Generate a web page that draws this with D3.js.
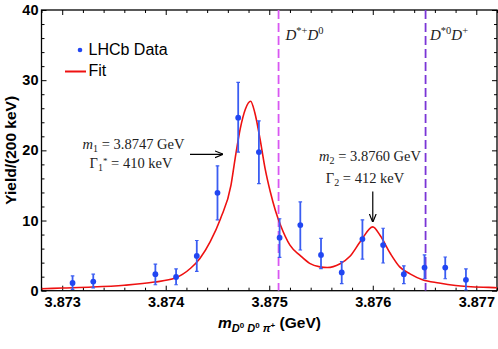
<!DOCTYPE html>
<html lang="en">
<head>
<meta charset="UTF-8">
<title>LHCb D0 D0 pi+ fit</title>
<script src="https://d3js.org/d3.v7.min.js"></script>
<style>
    body { margin: 0; background: #fff; }
    svg { display: block; }
    .tick text { font-family: "Liberation Sans", Arial, sans-serif; font-weight: bold; font-size: 14.5px; fill: #000; }
    .tick line { stroke: #000; stroke-width: 1; }
    .domain { display: none; }
    .serif { font-family: "Liberation Serif", "Times New Roman", serif; fill: #222; }
    .legend { font-family: "Liberation Sans", Arial, sans-serif; font-size: 16px; fill: #000; }
</style>
</head>
<body>
<div id="chart"></div>
<script>
    // data points (bin centres in GeV), yields and error bar ends
    const massX    = [3.8731, 3.8733, 3.8739, 3.8741, 3.8743, 3.8745, 3.8747, 3.8749, 3.8751,
                      3.8753, 3.8755, 3.8757, 3.8759, 3.8761, 3.8763, 3.8765, 3.8767, 3.8769];
    const yieldVal = [1.1, 1.3, 2.35, 1.95, 4.95, 13.95, 24.65, 19.75, 7.55,
                      9.35, 5.1, 2.6, 7.35, 6.5, 2.35, 3.3, 3.3, 1.55];
    const errHigh  = [2.1, 2.35, 3.8, 3.1, 7.15, 17.8, 29.7, 24.2, 10.25,
                      12.65, 7.45, 4.15, 10.1, 8.9, 3.55, 5.1, 4.8, 3.1];
    const errLow   = [0.2, 0.4, 0.85, 0.85, 2.75, 10.1, 19.75, 15.25, 4.75,
                      5.8, 3.15, 1.0, 4.5, 3.95, 1.0, 1.7, 1.7, 0.1];

    // fit curve
    const fitX = [3.8728, 3.8730, 3.87329, 3.8736, 3.87389, 3.87409, 3.87424, 3.87433, 3.87443,
                  3.87453, 3.87463, 3.87467, 3.87472, 3.87477, 3.87482, 3.87486, 3.87491, 3.87496,
                  3.87501, 3.87506, 3.87511, 3.8752, 3.8753, 3.87539, 3.87549, 3.87556, 3.87568,
                  3.87578, 3.87588, 3.8760, 3.87607, 3.87617, 3.87626, 3.87636, 3.87648, 3.87664,
                  3.8768, 3.87712, 3.8772];
    const fitY = [0.28, 0.38, 0.52, 0.78, 1.23, 1.8, 3.2, 4.6, 7.0,
                  10.3, 15.0, 18.8, 23.1, 25.9, 27.0, 25.4, 21.7, 17.4,
                  14.1, 11.4, 9.3, 6.5, 5.0, 3.9, 3.4, 3.3, 3.8,
                  4.9, 7.0, 9.1, 7.9, 5.3, 3.4, 2.4, 1.56, 1.1,
                  0.75, 0.47, 0.43];

    // thresholds
    const thresholdX = [3.87509, 3.87651];
    const thresholdColor = ["#d957f2", "#7a35d6"];

    const xTicks = [3.873, 3.874, 3.875, 3.876, 3.877];
    const yTicks = [0, 10, 20, 30, 40];

    const W = 498, H = 349;
    const pLeft = 41.5, pRight = 497, pTop = 10, pBottom = 290.7;

    const svg = d3.select("#chart").append("svg")
        .attr("width", W).attr("height", H);

    const x = d3.scaleLinear().domain([3.8728, 3.8772]).range([pLeft, pRight]);
    const y = d3.scaleLinear().domain([0, 40]).range([pBottom, pTop]);

    const minorX = d3.range(3.8728, 3.87721, 0.0002).filter(v => !xTicks.some(t => Math.abs(t - v) < 1e-7));
    const minorY = d3.range(0, 41, 2).filter(v => v % 10 !== 0);

    // axes: inward ticks on all four sides
    svg.append("g").attr("transform", `translate(0,${pBottom})`)
        .call(d3.axisBottom(x).tickValues(xTicks).tickSize(-5).tickPadding(6).tickFormat(d3.format(".3f")));
    svg.append("g").attr("transform", `translate(0,${pBottom})`)
        .call(d3.axisBottom(x).tickValues(minorX).tickSize(-3).tickFormat(""));
    svg.append("g").attr("transform", `translate(0,${pTop})`)
        .call(d3.axisTop(x).tickValues(xTicks).tickSize(-5).tickFormat(""));
    svg.append("g").attr("transform", `translate(0,${pTop})`)
        .call(d3.axisTop(x).tickValues(minorX).tickSize(-3).tickFormat(""));

    svg.append("g").attr("transform", `translate(${pLeft},0)`)
        .call(d3.axisLeft(y).tickValues(yTicks).tickSize(-5).tickPadding(3));
    svg.append("g").attr("transform", `translate(${pLeft},0)`)
        .call(d3.axisLeft(y).tickValues(minorY).tickSize(-3).tickFormat(""));
    svg.append("g").attr("transform", `translate(${pRight},0)`)
        .call(d3.axisRight(y).tickValues(yTicks).tickSize(-5).tickFormat(""));
    svg.append("g").attr("transform", `translate(${pRight},0)`)
        .call(d3.axisRight(y).tickValues(minorY).tickSize(-3).tickFormat(""));

    svg.append("rect")
        .attr("x", pLeft).attr("y", pTop)
        .attr("width", pRight - pLeft).attr("height", pBottom - pTop)
        .attr("fill", "none").attr("stroke", "#000").attr("stroke-width", 1.3);

    // clip for plot area
    svg.append("clipPath").attr("id", "clip").append("rect")
        .attr("x", pLeft).attr("y", pTop).attr("width", pRight - pLeft).attr("height", pBottom - pTop);
    const plot = svg.append("g").attr("clip-path", "url(#clip)");

    // threshold lines
    plot.selectAll(".thr").data(thresholdX).enter().append("line")
        .attr("x1", d => x(d)).attr("x2", d => x(d))
        .attr("y1", pTop).attr("y2", pBottom)
        .attr("stroke", (d, i) => thresholdColor[i])
        .attr("stroke-width", 1.8)
        .attr("stroke-dasharray", "9,4");

    // fit line
    const fitLine = d3.line()
        .x((d, i) => x(fitX[i]))
        .y(d => y(d))
        .curve(d3.curveMonotoneX);
    plot.append("path").datum(fitY)
        .attr("d", fitLine)
        .attr("fill", "none")
        .attr("stroke", "#ee1111")
        .attr("stroke-width", 1.6);

    // error bars
    const blue = "#2146f2";
    const bars = plot.selectAll(".err").data(yieldVal).enter().append("g");
    bars.append("line")
        .attr("x1", (d, i) => x(massX[i])).attr("x2", (d, i) => x(massX[i]))
        .attr("y1", (d, i) => y(errLow[i])).attr("y2", (d, i) => y(errHigh[i]))
        .attr("stroke", "#3a5df2").attr("stroke-width", 1.8);
    bars.append("line")
        .attr("x1", (d, i) => x(massX[i]) - 1.8).attr("x2", (d, i) => x(massX[i]) + 1.8)
        .attr("y1", (d, i) => y(errHigh[i])).attr("y2", (d, i) => y(errHigh[i]))
        .attr("stroke", "#3a5df2").attr("stroke-width", 1.2);
    bars.append("line")
        .attr("x1", (d, i) => x(massX[i]) - 1.8).attr("x2", (d, i) => x(massX[i]) + 1.8)
        .attr("y1", (d, i) => y(errLow[i])).attr("y2", (d, i) => y(errLow[i]))
        .attr("stroke", "#3a5df2").attr("stroke-width", 1.2);
    bars.append("circle")
        .attr("cx", (d, i) => x(massX[i])).attr("cy", d => y(d))
        .attr("r", 2.9).attr("fill", blue);

    // threshold labels
    const thrLab = svg.append("g").attr("class", "serif").attr("font-style", "italic").attr("font-size", 15);
    function mesonPair(g, xx, a, b) {
        const t = g.append("text").attr("x", xx).attr("y", 40);
        t.append("tspan").text("D");
        t.append("tspan").attr("font-size", 10.5).attr("dy", -6).attr("font-style", "normal").text(a);
        t.append("tspan").attr("dy", 6).text("D");
        t.append("tspan").attr("font-size", 10.5).attr("dy", -6).attr("font-style", "normal").text(b);
    }
    mesonPair(thrLab, 285.5, "*+", "0");
    mesonPair(thrLab, 430, "*0", "+");

    // annotations
    const ann = svg.append("g").attr("class", "serif").attr("font-size", 14.5);
    const a1 = ann.append("text").attr("x", 133.5).attr("y", 148.5).attr("text-anchor", "middle");
    a1.append("tspan").attr("font-style", "italic").text("m");
    a1.append("tspan").attr("font-size", 10).attr("dy", 3).text("1");
    a1.append("tspan").attr("dy", -3).text(" = 3.8747 GeV");
    const a2 = ann.append("text").attr("x", 131).attr("y", 168.3).attr("text-anchor", "middle");
    a2.append("tspan").text("Γ");
    a2.append("tspan").attr("font-size", 10).attr("dy", 3).text("1");
    a2.append("tspan").attr("font-size", 9).attr("dy", -7).text("*");
    a2.append("tspan").attr("dy", 4).text(" = 410 keV");

    const a3 = ann.append("text").attr("x", 370).attr("y", 161).attr("text-anchor", "middle");
    a3.append("tspan").attr("font-style", "italic").text("m");
    a3.append("tspan").attr("font-size", 10).attr("dy", 3).text("2");
    a3.append("tspan").attr("dy", -3).text(" = 3.8760 GeV");
    const a4 = ann.append("text").attr("x", 365).attr("y", 182.5).attr("text-anchor", "middle");
    a4.append("tspan").text("Γ");
    a4.append("tspan").attr("font-size", 10).attr("dy", 3).text("2");
    a4.append("tspan").attr("dy", -3).text(" = 412 keV");

    // arrows
    svg.append("defs").append("marker")
        .attr("id", "head").attr("viewBox", "0 0 10 10")
        .attr("refX", 9).attr("refY", 5)
        .attr("markerWidth", 7).attr("markerHeight", 7)
        .attr("orient", "auto-start-reverse")
        .append("path").attr("d", "M0,1 L10,5 L0,9").attr("fill", "none").attr("stroke", "#000").attr("stroke-width", 1.4);
    svg.append("line").attr("x1", 190).attr("y1", 154.3).attr("x2", 222.5).attr("y2", 154.3)
        .attr("stroke", "#000").attr("stroke-width", 1.2).attr("marker-end", "url(#head)");
    svg.append("line").attr("x1", x(3.876)).attr("y1", 191.5).attr("x2", x(3.876)).attr("y2", 221.5)
        .attr("stroke", "#000").attr("stroke-width", 1.2).attr("marker-end", "url(#head)");

    // legend
    svg.append("circle").attr("cx", 80).attr("cy", 50).attr("r", 2.3).attr("fill", blue);
    svg.append("text").attr("class", "legend").attr("x", 88.5).attr("y", 54.5).text("LHCb Data");
    svg.append("line").attr("x1", 65).attr("x2", 86).attr("y1", 71.5).attr("y2", 71.5)
        .attr("stroke", "#ee1111").attr("stroke-width", 2);
    svg.append("text").attr("class", "legend").attr("x", 88.5).attr("y", 76).text("Fit");

    // axis titles
    svg.append("text")
        .attr("transform", `translate(15.5,${(pTop + pBottom) / 2}) rotate(-90)`)
        .attr("text-anchor", "middle")
        .attr("font-family", "Liberation Sans, Arial, sans-serif")
        .attr("font-weight", "bold").attr("font-size", 15.5)
        .text("Yield/(200 keV)");

    const xt = svg.append("text")
        .attr("x", 269.5).attr("y", 328)
        .attr("text-anchor", "middle")
        .attr("font-family", "Liberation Sans, Arial, sans-serif")
        .attr("font-weight", "bold").attr("font-size", 15.5);
    xt.append("tspan").attr("font-style", "italic").text("m");
    xt.append("tspan").attr("font-style", "italic").attr("font-size", 11).attr("dy", 4).text("D");
    xt.append("tspan").attr("font-size", 8).attr("dy", -4).text("0");
    xt.append("tspan").attr("font-style", "italic").attr("font-size", 11).attr("dy", 4).text(" D");
    xt.append("tspan").attr("font-size", 8).attr("dy", -4).text("0");
    xt.append("tspan").attr("font-style", "italic").attr("font-size", 11).attr("dy", 4).text(" π");
    xt.append("tspan").attr("font-size", 8).attr("dy", -4).text("+");
    xt.append("tspan").attr("dy", 0).text(" (GeV)");
</script>
</body>
</html>
